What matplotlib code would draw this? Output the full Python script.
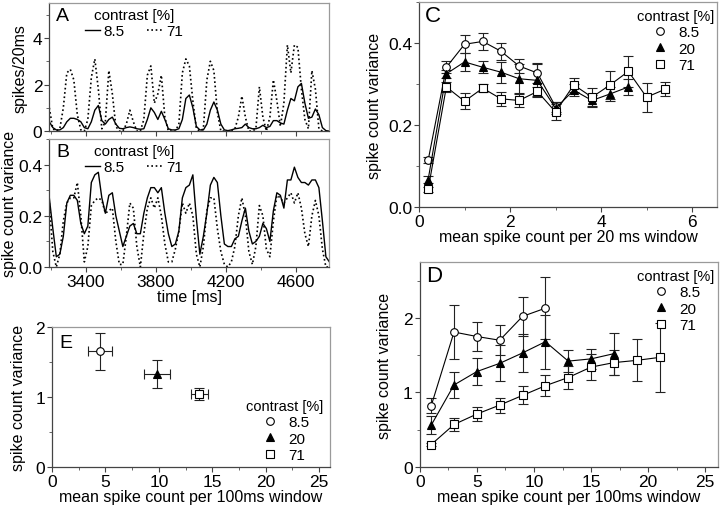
import matplotlib
matplotlib.use("Agg")
import matplotlib.pyplot as plt
from matplotlib.lines import Line2D
from matplotlib.ticker import MultipleLocator, FormatStrFormatter

plt.rcParams["font.family"] = ["Liberation Sans", "DejaVu Sans"]
plt.rcParams["font.size"] = 11

time_ms = list(range(3190, 4791, 20))
rate_85 = [0.4, 0.15, 0.05, 0.05, 0.15, 0.4, 0.55, 0.55, 0.5, 0.4,
           0.15, 0.1, 0.4, 0.9, 1.1, 0.45, 0.3, 0.5, 0.6, 0.3,
           0.12, 0.1, 0.15, 0.18, 0.15, 0.1, 0.08, 0.1, 0.5, 1.0,
           0.8, 0.5, 0.85, 0.5, 0.1, 0.05, 0.05, 0.1, 0.5, 1.4,
           1.55, 1.0, 0.2, 0.05, 0.05, 0.3, 0.9, 1.25, 0.9, 0.3,
           0.05, 0.02, 0.05, 0.1, 0.12, 0.15, 0.3, 0.15, 0.1, 0.1,
           0.15, 0.25, 0.15, 0.2, 0.45, 0.45, 0.35, 0.3, 0.9, 1.4,
           1.3, 1.9, 2.05, 1.2, 0.55, 0.6, 0.95, 0.7, 0.15, 0.02,
           0.0]
rate_71 = [1.0, 0.1, 0.0, 0.1, 1.0, 2.5, 2.65, 2.2, 0.7, 0.05,
           0.0, 0.5, 2.3, 3.1, 1.8, 0.1, 0.4, 2.6, 1.6, 0.2,
           0.0, 0.0, 0.3, 0.9, 0.4, 0.0, 0.0, 0.5, 2.4, 2.8,
           1.2, 1.6, 2.4, 0.6, 0.0, 0.0, 0.0, 0.3, 2.5, 3.1,
           2.8, 1.3, 0.1, 0.0, 0.1, 2.2, 3.0, 2.6, 0.8, 0.0,
           0.0, 0.0, 0.0, 0.1, 0.6, 1.5, 0.6, 0.0, 0.0, 0.1,
           1.9, 0.6, 0.0, 0.6, 2.2, 1.3, 0.2, 1.2, 3.7, 2.5,
           3.7, 3.6, 1.8, 0.5, 0.1, 2.6, 1.8, 0.1, 0.0, 0.0,
           0.0]
var_85 = [0.27, 0.15, 0.04, 0.05, 0.12, 0.25, 0.28, 0.28, 0.26, 0.17,
          0.13, 0.16, 0.33, 0.36, 0.37, 0.27, 0.21, 0.28, 0.29, 0.2,
          0.14, 0.08, 0.12, 0.16, 0.17, 0.13, 0.13, 0.21, 0.27, 0.31,
          0.31, 0.29, 0.31, 0.21, 0.13, 0.08, 0.09, 0.14, 0.27, 0.31,
          0.32, 0.36, 0.19, 0.05, 0.12, 0.21, 0.32, 0.35, 0.33, 0.2,
          0.09, 0.08, 0.08, 0.11, 0.12, 0.18, 0.23, 0.14, 0.09, 0.1,
          0.12, 0.17, 0.15, 0.1, 0.22, 0.29, 0.28, 0.23, 0.34, 0.34,
          0.39, 0.35, 0.33, 0.33, 0.32, 0.34, 0.34, 0.31, 0.18, 0.04,
          0.02]
var_71 = [0.25, 0.06, 0.0, 0.05, 0.18, 0.25, 0.27, 0.27, 0.33, 0.2,
          0.02, 0.08, 0.24, 0.26, 0.27, 0.26, 0.21, 0.22, 0.23, 0.1,
          0.01, 0.01, 0.12, 0.25, 0.23, 0.08, 0.0, 0.13, 0.23, 0.27,
          0.23, 0.27, 0.2, 0.09, 0.02, 0.02, 0.07, 0.14, 0.25, 0.21,
          0.25, 0.2, 0.05, 0.0, 0.08, 0.22, 0.27, 0.27, 0.15, 0.06,
          0.01, 0.0, 0.02, 0.08, 0.2, 0.27, 0.2, 0.06, 0.01, 0.08,
          0.24, 0.2, 0.07, 0.04, 0.18, 0.28, 0.27, 0.25, 0.27, 0.29,
          0.25, 0.29, 0.23, 0.13, 0.08, 0.2, 0.26, 0.2, 0.07, 0.0,
          0.0]

# --- C: 20 ms windows ---
c_x_85 = [0.2, 0.6, 1.0, 1.4, 1.8, 2.2, 2.6, 3.0]
c_var_85 = [0.114, 0.341, 0.397, 0.404, 0.38, 0.344, 0.327, 0.245]
c_err_85 = [0.007, 0.015, 0.022, 0.02, 0.021, 0.018, 0.025, 0.012]
c_x_20 = [0.2, 0.6, 1.0, 1.4, 1.8, 2.2, 2.6, 3.0, 3.4, 3.8, 4.2, 4.6]
c_var_20 = [0.067, 0.325, 0.354, 0.341, 0.329, 0.313, 0.309, 0.241, 0.285, 0.26, 0.276, 0.293]
c_err_20 = [0.008, 0.01, 0.022, 0.015, 0.026, 0.035, 0.04, 0.015, 0.015, 0.013, 0.018, 0.02]
c_x_71 = [0.2, 0.6, 1.0, 1.4, 1.8, 2.2, 2.6, 3.0, 3.4, 3.8, 4.2, 4.6, 5.0, 5.4]
c_var_71 = [0.043, 0.293, 0.258, 0.29, 0.264, 0.26, 0.282, 0.232, 0.298, 0.268, 0.298, 0.331, 0.268, 0.287]
c_err_71 = [0.006, 0.012, 0.02, 0.01, 0.017, 0.015, 0.01, 0.02, 0.017, 0.023, 0.035, 0.037, 0.035, 0.017]

# --- D: 100 ms windows ---
d_x_85 = [1, 3, 5, 7, 9, 11]
d_var_85 = [0.82, 1.81, 1.75, 1.7, 2.02, 2.13]
d_err_85 = [0.1, 0.36, 0.19, 0.2, 0.26, 0.42]
d_x_20 = [1, 3, 5, 7, 9, 11, 13, 15, 17]
d_var_20 = [0.56, 1.1, 1.28, 1.39, 1.53, 1.68, 1.42, 1.45, 1.52]
d_err_20 = [0.12, 0.17, 0.18, 0.24, 0.25, 0.36, 0.15, 0.13, 0.28]
d_x_71 = [1, 3, 5, 7, 9, 11, 13, 15, 17, 19, 21]
d_var_71 = [0.3, 0.57, 0.71, 0.83, 0.96, 1.09, 1.2, 1.34, 1.4, 1.43, 1.47]
d_err_71 = [0.02, 0.09, 0.09, 0.1, 0.12, 0.14, 0.16, 0.18, 0.17, 0.28, 0.46]

# --- E: whole-trial means ---
e_mean = [4.5, 9.8, 13.8]
e_mean_err = [1.13, 1.2, 0.78]
e_var = [1.65, 1.33, 1.04]
e_var_err = [0.26, 0.2, 0.09]

contrasts = ["8.5", "20", "71"]
markers = ["o", "^", "s"]
faces = ["white", "black", "white"]


def style(ax):
    for s in ("top", "right"):
        ax.spines[s].set_color("#9a9a9a")
    for s in ("left", "bottom"):
        ax.spines[s].set_color("#444444")
    for s in ax.spines.values():
        s.set_linewidth(0.9)
    ax.tick_params(which="major", direction="out", length=3.5, width=0.8,
                   color="#444444", labelsize=12.5, pad=1.5)
    ax.tick_params(which="minor", direction="out", length=2.2, width=0.7, color="#666666")


def marker_legend(ax, **kw):
    handles = [Line2D([], [], ls="none", marker=m, mfc=f, mec="black", mew=0.8, ms=5.5)
               for m, f in zip(markers, faces)]
    ax.legend(handles, contrasts, title="contrast [%]", frameon=False, fontsize=11,
              title_fontsize=10.5, handletextpad=0.6, labelspacing=0.15, borderpad=0.1,
              handlelength=1.2, **kw)


def err_series(ax, xs, ys, es, i, line=True):
    ax.errorbar(xs, ys, yerr=es, fmt=markers[i] + ("-" if line else ""), color="black",
                mfc=faces[i], mec="black", mew=0.8, ms=5.5, lw=0.8,
                elinewidth=0.8, ecolor="#222222", capsize=3.5, capthick=0.8)


fig = plt.figure(figsize=(7.2, 5.1), dpi=100)
ax_a = fig.add_axes([0.0685, 0.741, 0.389, 0.251])
ax_b = fig.add_axes([0.0685, 0.4745, 0.389, 0.251])
ax_e = fig.add_axes([0.0722, 0.0824, 0.386, 0.2745])
ax_c = fig.add_axes([0.582, 0.592, 0.414, 0.402])
ax_d = fig.add_axes([0.583, 0.0824, 0.414, 0.402])

# A
ax_a.plot(time_ms, rate_85, color="black", lw=1.0, label="8.5")
ax_a.plot(time_ms, rate_71, color="black", lw=1.2, ls=(0, (1, 1.6)), label="71")
ax_a.set_xlim(3190, 4790)
ax_a.set_ylim(0, 5.5)
ax_a.yaxis.set_major_locator(MultipleLocator(2))
ax_a.yaxis.set_minor_locator(MultipleLocator(1))
ax_a.xaxis.set_major_locator(MultipleLocator(400, offset=200))
ax_a.xaxis.set_minor_locator(MultipleLocator(200))
ax_a.tick_params(axis="x", labelbottom=False)
ax_a.set_ylabel("spikes/20ms", fontsize=11.5, labelpad=4)

# B
ax_b.plot(time_ms, var_85, color="black", lw=1.0, label="8.5")
ax_b.plot(time_ms, var_71, color="black", lw=1.2, ls=(0, (1, 1.6)), label="71")
ax_b.set_xlim(3190, 4790)
ax_b.set_ylim(0, 0.5)
ax_b.yaxis.set_major_locator(MultipleLocator(0.2))
ax_b.yaxis.set_minor_locator(MultipleLocator(0.1))
ax_b.yaxis.set_major_formatter(FormatStrFormatter("%.1f"))
ax_b.xaxis.set_major_locator(MultipleLocator(400, offset=200))
ax_b.xaxis.set_minor_locator(MultipleLocator(200))
ax_b.set_xlabel("time [ms]", fontsize=11.5, labelpad=0)
ax_b.set_ylabel("spike count variance", fontsize=11.5, labelpad=1)

for ax, letter in ((ax_a, "A"), (ax_b, "B")):
    style(ax)
    ax.text(0.025, 0.97, letter, transform=ax.transAxes, fontsize=14, va="top", ha="left")
    ax.legend(title="contrast [%]", ncol=2, loc="upper left", bbox_to_anchor=(0.095, 1.03),
              frameon=False, fontsize=11, title_fontsize=11, handlelength=1.0,
              handletextpad=0.2, columnspacing=1.5, borderpad=0.1, labelspacing=0.1)

# E
for i in range(3):
    ax_e.errorbar(e_mean[i], e_var[i], xerr=e_mean_err[i], yerr=e_var_err[i],
                  fmt=markers[i], color="black", mfc=faces[i], mec="black", mew=0.8,
                  ms=5.5, elinewidth=0.8, ecolor="#222222", capsize=3.5, capthick=0.8)
ax_e.set_xlim(0, 26)
ax_e.set_ylim(0, 2)
ax_e.xaxis.set_major_locator(MultipleLocator(5))
ax_e.xaxis.set_minor_locator(MultipleLocator(2.5))
ax_e.yaxis.set_major_locator(MultipleLocator(1))
ax_e.yaxis.set_minor_locator(MultipleLocator(0.5))
ax_e.set_xlabel("mean spike count per 100ms window", fontsize=11.5, labelpad=0)
ax_e.set_ylabel("spike count variance", fontsize=11.5, labelpad=7)
style(ax_e)
ax_e.text(0.025, 0.95, "E", transform=ax_e.transAxes, fontsize=14, va="top", ha="left")
marker_legend(ax_e, loc="lower right", bbox_to_anchor=(1.01, -0.03))

# C
err_series(ax_c, c_x_85, c_var_85, c_err_85, 0)
err_series(ax_c, c_x_20, c_var_20, c_err_20, 1)
err_series(ax_c, c_x_71, c_var_71, c_err_71, 2)
ax_c.set_xlim(0, 6.55)
ax_c.set_ylim(0, 0.5)
ax_c.xaxis.set_major_locator(MultipleLocator(2))
ax_c.xaxis.set_minor_locator(MultipleLocator(1))
ax_c.yaxis.set_major_locator(MultipleLocator(0.2))
ax_c.yaxis.set_minor_locator(MultipleLocator(0.1))
ax_c.yaxis.set_major_formatter(FormatStrFormatter("%.1f"))
ax_c.set_xlabel("mean spike count per 20 ms window", fontsize=11.5, labelpad=0)
ax_c.set_ylabel("spike count variance", fontsize=11.5, labelpad=4)
style(ax_c)
ax_c.text(0.02, 0.985, "C", transform=ax_c.transAxes, fontsize=16, va="top", ha="left")
marker_legend(ax_c, loc="upper right", bbox_to_anchor=(1.02, 1.01))

# D
err_series(ax_d, d_x_85, d_var_85, d_err_85, 0)
err_series(ax_d, d_x_20, d_var_20, d_err_20, 1)
err_series(ax_d, d_x_71, d_var_71, d_err_71, 2)
ax_d.set_xlim(0, 26.1)
ax_d.set_ylim(0, 2.75)
ax_d.xaxis.set_major_locator(MultipleLocator(5))
ax_d.xaxis.set_minor_locator(MultipleLocator(2.5))
ax_d.yaxis.set_major_locator(MultipleLocator(1))
ax_d.yaxis.set_minor_locator(MultipleLocator(0.5))
ax_d.set_xlabel("mean spike count per 100ms window", fontsize=11.5, labelpad=0)
ax_d.set_ylabel("spike count variance", fontsize=11.5, labelpad=8)
style(ax_d)
ax_d.text(0.02, 0.985, "D", transform=ax_d.transAxes, fontsize=16, va="top", ha="left")
marker_legend(ax_d, loc="upper right", bbox_to_anchor=(1.02, 1.01))

fig.savefig("out.png", dpi=100)
